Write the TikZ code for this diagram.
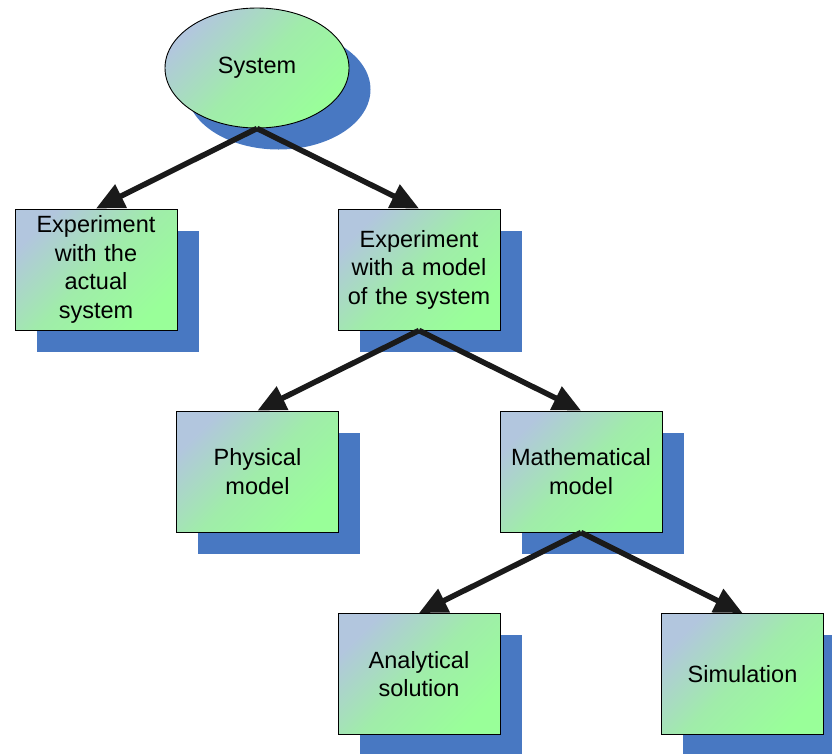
\documentclass[tikz,border=0pt]{standalone}
\usepackage{fontspec}
\setmainfont{Liberation Sans}
\usetikzlibrary{shapes.geometric,shadows,arrows.meta}
\definecolor{boxgreen}{RGB}{153,255,153}
\definecolor{boxblue}{RGB}{178,198,222}
\definecolor{boxmid}{RGB}{160,236,170}
\definecolor{shadowblue}{RGB}{72,120,194}
\definecolor{arrowdark}{RGB}{26,26,26}
\tikzset{
  blockbase/.style={draw=black, line width=0.9pt,
    top color=boxblue, bottom color=boxgreen, middle color=boxmid, shading angle=45,
    general shadow={fill=shadowblue, shadow xshift=21.5pt, shadow yshift=-21.5pt},
    font=\fontsize{23.5}{28.5}\selectfont, align=center, inner sep=0pt},
  stagebox/.style={blockbase, rectangle, minimum width=162pt, minimum height=121pt, text width=160pt},
  topoval/.style={blockbase, ellipse, minimum width=184pt, minimum height=120pt},
  link/.style={draw=arrowdark, line width=5.5pt,
    -{Triangle[length=28pt,width=25pt]}}
}
\begin{document}
\begin{tikzpicture}[x=1pt,y=-1pt]
  \useasboundingbox (0,0) rectangle (832,753);
  % tree of study approaches
  \node[topoval]  (sys)  at (257,68)    {System};
  \node[stagebox] (act)  at (96,269.5)  {Experiment\\with the\\actual\\system};
  \node[stagebox] (mod)  at (419,269.5) {Experiment\\with a model\\of the system};
  \node[stagebox] (phys) at (257.5,471.5) {Physical\\model};
  \node[stagebox] (math) at (581,471.5) {Mathematical\\model};
  \node[stagebox] (ana)  at (419,674)   {Analytical\\solution};
  \node[stagebox] (sim)  at (742.5,674) {Simulation};
  % connectors
  \draw[link] (sys.south) -- (act.north);
  \draw[link] (sys.south) -- (mod.north);
  \draw[link] (mod.south) -- (phys.north);
  \draw[link] (mod.south) -- (math.north);
  \draw[link] (math.south) -- (ana.north);
  \draw[link] (math.south) -- (sim.north);
\end{tikzpicture}
\end{document}
